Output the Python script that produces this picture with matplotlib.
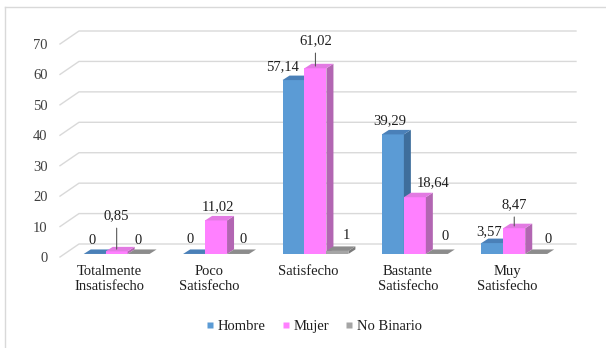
import matplotlib
matplotlib.use("Agg")
import matplotlib.pyplot as plt
from matplotlib.patches import Polygon
from matplotlib.lines import Line2D

plt.rcParams["font.family"] = ["Liberation Serif", "DejaVu Serif"]

# datos
categories = ["Totalmente\nInsatisfecho", "Poco\nSatisfecho", "Satisfecho",
              "Bastante\nSatisfecho", "Muy\nSatisfecho"]
series_names = ["Hombre", "Mujer", "No Binario"]
hombre = [0, 0, 57.14, 39.29, 3.57]
mujer = [0.85, 11.02, 61.02, 18.64, 8.47]
no_binario = [0, 0, 1, 0, 0]
yticks = [0, 10, 20, 30, 40, 50, 60, 70]

# estilo
front = ["#5B9BD5", "#FF80FF", "#A5A5A5"]
side = ["#3E6E9C", "#B266B2", "#7A7A7A"]
top = ["#4A80B8", "#E27AE2", "#8C8C8C"]

# desplazamiento de etiquetas (px) y guias
label_offsets = [
    [(-3, -13), (-4, -14), (-11, -13), (-3, -14), (-3, -11)],
    [(0, -33), (2, -14), (0, -25), (18, -15), (0, -21)],
    [(-1, -13), (5, -14), (9, -15), (8, -17), (12, -14)],
]
leaders = {(1, 0), (1, 2), (1, 4)}


def fmt(v):
    if float(v).is_integer():
        return str(int(v))
    return f"{v:.2f}".replace(".", ",")


fig = plt.figure(figsize=(6.06, 3.48), dpi=100)
ax = fig.add_axes([60 / 606, 91 / 348, 497 / 606, 213 / 348])
ax.set_xlim(-0.5, 4.5)
ax.set_ylim(0, 70)
for s in ax.spines.values():
    s.set_visible(False)

# paredes / lineas de cuadricula
wdx, wdy = 0.191, 4.27
for v in yticks:
    ax.plot([-0.5, -0.5 + wdx, 4.5 + wdx], [v, v + wdy, v + wdy],
            color="#D9D9D9", lw=1.0, clip_on=False, zorder=1)

ax.set_yticks(yticks)
ax.set_yticklabels([str(v) for v in yticks], fontsize=10.5, color="#404040")
ax.tick_params(axis="y", length=0, pad=9)
ax.set_xticks(range(len(categories)))
ax.set_xticklabels(categories, fontsize=10.5, color="#1F1F1F", linespacing=1.15)
ax.tick_params(axis="x", length=0, pad=6)

# barras 3D
w = 0.221
base = 1.0
bdx, bdy = 0.0704, 1.48
series = [hombre, mujer, no_binario]
z = 2
for i in range(len(categories)):
    for k, vals in enumerate(series):
        xc = i + 0.07 + (k - 1) * w
        v = vals[i]
        bar = ax.bar(xc, v, width=w, bottom=base, color=front[k],
                     zorder=z, clip_on=False, linewidth=0)[0]
        x0 = bar.get_x()
        x1 = x0 + bar.get_width()
        y0 = bar.get_y()
        y1 = y0 + bar.get_height()
        ax.add_patch(Polygon([(x1, y0), (x1 + bdx, y0 + bdy), (x1 + bdx, y1 + bdy), (x1, y1)],
                             closed=True, fc=side[k], ec="none", zorder=z, clip_on=False))
        ax.add_patch(Polygon([(x0, y1), (x1, y1), (x1 + bdx, y1 + bdy), (x0 + bdx, y1 + bdy)],
                             closed=True, fc=top[k], ec="none", zorder=z, clip_on=False))
        z += 1

        dx, dy = label_offsets[k][i]
        if (k, i) in leaders:
            ax.annotate(fmt(v), xy=(xc, y1 + bdy / 2), xytext=(dx, -dy),
                        textcoords="offset pixels", ha="center", va="center",
                        fontsize=10.5, color="#1F1F1F", zorder=50,
                        arrowprops=dict(arrowstyle="-", color="#595959", lw=0.8,
                                        shrinkA=2, shrinkB=0))
        else:
            ax.annotate(fmt(v), xy=(xc, y1), xytext=(dx, -dy),
                        textcoords="offset pixels", ha="center", va="center",
                        fontsize=10.5, color="#1F1F1F", zorder=50)

# leyenda
handles = [Line2D([], [], marker="s", linestyle="none", markersize=5,
                  markerfacecolor=front[k], markeredgecolor="none")
           for k in range(3)]
fig.legend(handles, series_names, loc="center", bbox_to_anchor=(313 / 606, 1 - 326 / 348),
           ncol=3, frameon=False, fontsize=10.5, handletextpad=0.1,
           columnspacing=1.0, handlelength=0.8, labelcolor="#1F1F1F")

# borde
fig.add_artist(Line2D([5 / 606, 5 / 606], [0, 1 - 7 / 348], color="#D9D9D9", lw=1))
fig.add_artist(Line2D([5 / 606, 1], [1 - 7 / 348, 1 - 7 / 348], color="#D9D9D9", lw=1))

fig.savefig("out.png", dpi=100)
